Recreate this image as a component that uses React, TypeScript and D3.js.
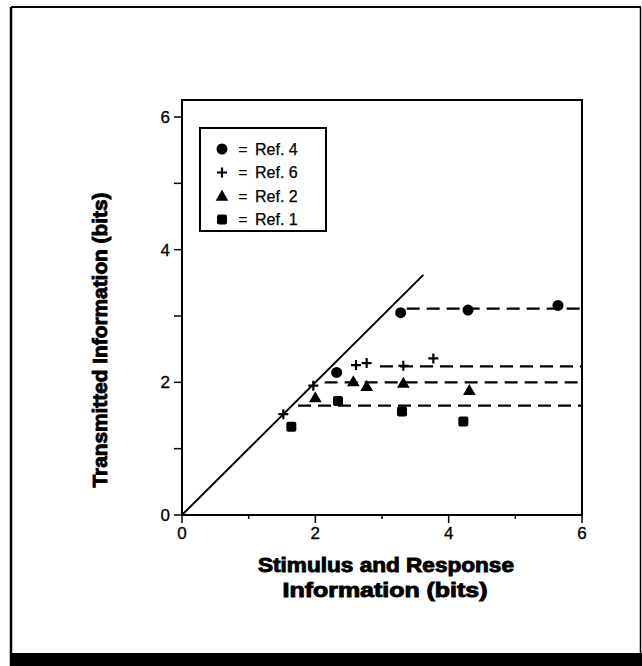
import React from "react";
import * as d3 from "d3";

const ref4X = [2.32, 3.28, 4.29, 5.64];
const ref4Y = [2.15, 3.05, 3.09, 3.16];
const ref6X = [1.52, 1.97, 2.61, 2.77, 3.32, 3.77];
const ref6Y = [1.52, 1.95, 2.26, 2.29, 2.25, 2.36];
const ref2X = [2.0, 2.57, 2.77, 3.32, 4.31];
const ref2Y = [1.77, 2.01, 1.94, 1.99, 1.88];
const ref1X = [1.64, 2.34, 3.3, 4.22];
const ref1Y = [1.33, 1.72, 1.56, 1.41];

// plateau lines: level and start x
const plateauLevels = [3.11, 2.24, 2.0, 1.65];
const plateauStarts = [3.37, 2.97, 2.14, 1.74];

const diagonalEnd = 3.62;
const xTicks = [0, 1, 2, 3, 4, 5, 6];
const yTicks = [0, 1, 2, 3, 4, 5, 6];
const tickLabels = [0, 2, 4, 6];
const legendLabels = ["Ref. 4", "Ref. 6", "Ref. 2", "Ref. 1"];
const legendKinds = ["circle", "plus", "triangle", "square"];

export default function App() {
  const x = d3.scaleLinear().domain([0, 6]).range([182, 582]);
  const y = d3.scaleLinear().domain([0, 6]).range([515, 117]);
  const plotTop = 100;
  const font = "'Liberation Sans', Arial, Helvetica, sans-serif";

  const marker = (kind: string, cx: number, cy: number, key: string) => {
    if (kind === "circle") return <circle key={key} cx={cx} cy={cy} r={5.5} fill="#000" />;
    if (kind === "plus")
      return (
        <path key={key} d={`M${cx - 5},${cy}H${cx + 5}M${cx},${cy - 5}V${cy + 5}`} stroke="#000" strokeWidth={2.2} />
      );
    if (kind === "triangle") {
      const sym = d3.symbol(d3.symbolTriangle, 70)();
      return <path key={key} d={sym || ""} transform={`translate(${cx},${cy + 1})`} fill="#000" />;
    }
    return <rect key={key} x={cx - 5} y={cy - 5} width={10} height={10} rx={2} fill="#000" />;
  };

  const series = [
    { kind: "circle", xs: ref4X, ys: ref4Y },
    { kind: "plus", xs: ref6X, ys: ref6Y },
    { kind: "triangle", xs: ref2X, ys: ref2Y },
    { kind: "square", xs: ref1X, ys: ref1Y },
  ];

  const diag = d3.line<number>().x((d) => x(d)).y((d) => y(d))([0, diagonalEnd]) || "";

  return (
    <div style={{ position: "absolute", left: 0, top: 0 }}>
      <svg width={642} height={666} style={{ display: "block" }}>
        <rect x={0} y={0} width={642} height={666} fill="#fff" />
        {/* outer frame */}
        <line x1={11} y1={7} x2={641} y2={7} stroke="#000" strokeWidth={2} />
        <line x1={11} y1={7} x2={11} y2={666} stroke="#000" strokeWidth={2.5} />
        <line x1={640.5} y1={7} x2={640.5} y2={666} stroke="#000" strokeWidth={1.5} />
        <rect x={11} y={653} width={631} height={13} fill="#000" />

        {/* plot frame */}
        <rect x={x(0)} y={plotTop} width={x(6) - x(0)} height={y(0) - plotTop} fill="none" stroke="#000" strokeWidth={2} />

        {/* y ticks */}
        {yTicks.map((t) => (
          <line key={"yt" + t} x1={x(0) - 8} x2={x(0)} y1={y(t)} y2={y(t)} stroke="#000" strokeWidth={1.5} />
        ))}
        {tickLabels.map((t) => (
          <text key={"yl" + t} x={x(0) - 12} y={y(t)} dy="0.36em" textAnchor="end" fontFamily={font} fontSize={17} stroke="#000" strokeWidth={0.3} fill="#000">
            {t}
          </text>
        ))}
        {/* x ticks */}
        {xTicks.map((t) => (
          <line key={"xt" + t} x1={x(t)} x2={x(t)} y1={y(0)} y2={y(0) + (t % 2 === 0 ? 8 : 4)} stroke="#000" strokeWidth={1.5} />
        ))}
        {tickLabels.map((t) => (
          <text key={"xl" + t} x={x(t)} y={y(0) + 24} textAnchor="middle" fontFamily={font} fontSize={17} stroke="#000" strokeWidth={0.3} fill="#000">
            {t}
          </text>
        ))}

        {/* axis titles */}
        <text x={386} y={572} textAnchor="middle" fontFamily={font} fontWeight={900} fontSize={20} textLength={256} lengthAdjust="spacingAndGlyphs" stroke="#000" strokeWidth={0.9} fill="#000">
          Stimulus and Response
        </text>
        <text x={385} y={597} textAnchor="middle" fontFamily={font} fontWeight={900} fontSize={20} textLength={205} lengthAdjust="spacingAndGlyphs" stroke="#000" strokeWidth={0.9} fill="#000">
          Information (bits)
        </text>
        <text transform={`translate(107,340) rotate(-90)`} textAnchor="middle" fontFamily={font} fontWeight={900} fontSize={20} textLength={295} lengthAdjust="spacingAndGlyphs" stroke="#000" strokeWidth={0.9} fill="#000">
          Transmitted Information (bits)
        </text>

        {/* diagonal */}
        <path d={diag} stroke="#000" strokeWidth={2} fill="none" />

        {/* plateau dashed lines */}
        {plateauLevels.map((lv, i) => (
          <line key={"pl" + i} x1={x(plateauStarts[i])} x2={x(6)} y1={y(lv)} y2={y(lv)} stroke="#000" strokeWidth={2.2} strokeDasharray="13,7" />
        ))}

        {/* points */}
        {series.map((s, si) => s.xs.map((xv, i) => marker(s.kind, x(xv), y(s.ys[i]), `m${si}-${i}`)))}

        {/* legend */}
        <rect x={200} y={128} width={126} height={103} fill="#fff" stroke="#000" strokeWidth={2} />
        {legendLabels.map((lab, i) => (
          <g key={"lg" + i}>
            {marker(legendKinds[i], 222, 149 + i * 23.5, "lm" + i)}
            <text x={243} y={149 + i * 23.5} dy="0.36em" textAnchor="middle" fontFamily={font} fontSize={16} fill="#000">
              =
            </text>
            <text x={255} y={149 + i * 23.5} dy="0.36em" fontFamily={font} fontSize={16} stroke="#000" strokeWidth={0.25} fill="#000">
              {lab}
            </text>
          </g>
        ))}
      </svg>
    </div>
  );
}
